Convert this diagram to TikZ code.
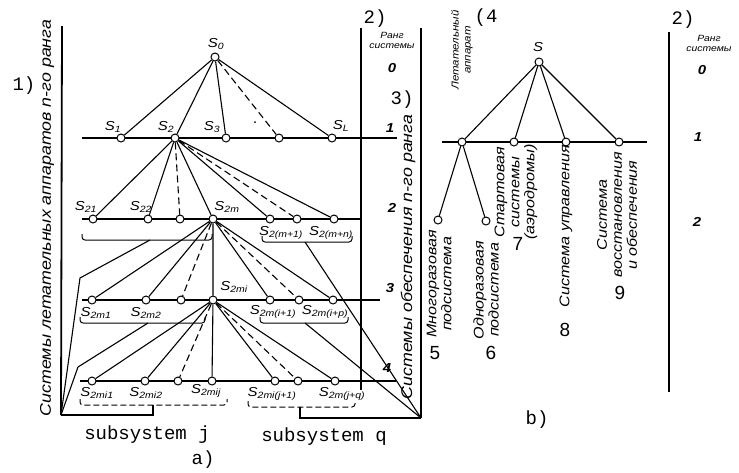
\documentclass[tikz,border=0pt]{standalone}
\usepackage{fontspec}
\setmainfont{Liberation Sans}
\setmonofont{Liberation Mono}
\newfontfamily\rusf[FakeStretch=1.15]{Liberation Sans}
\usetikzlibrary{positioning,backgrounds}
\newcommand{\Sx}[1]{\textit{S}\textsubscript{\itshape #1}}
\tikzset{
  nodo/.style   = {circle, draw, fill=white, line width=1pt, inner sep=0pt,
                   minimum size=8pt},
  rama/.style   = {line width=1.1pt},
  ramad/.style  = {line width=1.1pt, dash pattern=on 7pt off 4pt},
  eje/.style    = {line width=1.8pt},
  nivel/.style  = {line width=1.3pt},
  llave/.style  = {line width=1pt, rounded corners=3pt},
  llaved/.style = {llave, dash pattern=on 6pt off 3pt},
  etq/.style    = {font=\rusf\itshape\fontsize{13}{13}\selectfont, inner sep=0pt},
  rango/.style  = {font=\rusf\bfseries\itshape\fontsize{13}{13}\selectfont, inner sep=0pt},
  rtit/.style   = {font=\rusf\itshape\fontsize{9}{10}\selectfont, align=center, inner sep=0pt},
  rot/.style    = {rotate=90, align=center, inner sep=0pt,
                   font=\rusf\itshape\fontsize{14}{15}\selectfont},
  rotg/.style   = {rot, font=\rusf\itshape\fontsize{15.5}{16}\selectfont},
  rotp/.style   = {rot, font=\rusf\itshape\fontsize{10}{12}\selectfont},
  num/.style    = {font=\fontsize{19}{19}\selectfont, inner sep=0pt},
  marca/.style  = {font=\ttfamily\fontsize{19}{19}\selectfont, inner sep=0pt},
}
\begin{document}
\begin{tikzpicture}[x=1pt,y=-1pt]
  \useasboundingbox (0,0) rectangle (739,472);

  % a) arbol de sistemas
  \node[nodo] (s0) at (215,57) {};
  \node[nodo] (s1) at (121,138) {};
  \node[nodo] (s2) at (175,138) {};
  \node[nodo] (s3) at (226,138) {};
  \node[nodo] (s4) at (279,138) {};
  \node[nodo] (sl) at (332,138) {};
  \node[nodo] (s21) at (93,219) {};
  \node[nodo] (s22) at (148,219) {};
  \node[nodo] (s2x) at (180,219) {};
  \node[nodo] (s2m) at (213,219) {};
  \node[nodo] (s2a) at (270,219) {};
  \node[nodo] (s2b) at (297,219) {};
  \node[nodo] (s2n) at (334,219) {};
  \node[nodo] (m1) at (92,300) {};
  \node[nodo] (m2) at (146,300) {};
  \node[nodo] (mx) at (181,300) {};
  \node[nodo] (mi) at (213,300) {};
  \node[nodo] (ma) at (270,300) {};
  \node[nodo] (mb) at (299,300) {};
  \node[nodo] (mp) at (333,300) {};
  \node[nodo] (i1) at (92,381) {};
  \node[nodo] (i2) at (145,381) {};
  \node[nodo] (ix) at (178,381) {};
  \node[nodo] (ij) at (212,381) {};
  \node[nodo] (ia) at (275,381) {};
  \node[nodo] (ib) at (298,381) {};
  \node[nodo] (iq) at (335,381) {};

  \node[etq] (ls0) at (216,44) {\Sx{0}};
  \node[etq] (ls1) at (113,127) {\Sx{1}};
  \node[etq] (ls2) at (166,127) {\Sx{2}};
  \node[etq] (ls3) at (212,127) {\Sx{3}};
  \node[etq] (lsl) at (341,126) {\Sx{L}};
  \node[etq] (ls21) at (86,207) {\Sx{21}};
  \node[etq] (ls22) at (141,207) {\Sx{22}};
  \node[etq] (ls2m) at (227,207) {\Sx{2m}};
  \node[etq] (ls2a) at (281,233) {\Sx{2(m+1)}};
  \node[etq] (ls2n) at (331,233) {\Sx{2(m+n)}};
  \node[etq] (lm1) at (96,313) {\Sx{2m1}};
  \node[etq] (lm2) at (146,313) {\Sx{2m2}};
  \node[etq] (lmi) at (234,287) {\Sx{2mi}};
  \node[etq] (lma) at (273,312) {\Sx{2m(i+1)}};
  \node[etq] (lmp) at (325,312) {\Sx{2m(i+p)}};
  \node[etq] (li1) at (97,393) {\Sx{2mi1}};
  \node[etq] (li2) at (146,393) {\Sx{2mi2}};
  \node[etq] (lij) at (206,391) {\Sx{2mij}};
  \node[etq] (lia) at (272,394) {\Sx{2mi(j+1)}};
  \node[etq] (liq) at (342,394) {\Sx{2m(j+q)}};

  \draw[rama] (s0) -- (s1) (s0) -- (s2) (s0) -- (s3) (s0) -- (sl);
  \draw[ramad] (s0) -- (s4);
  \fill (255,122) circle (1pt);
  \draw[rama] (s2) -- (s21) (s2) -- (s22) (s2) -- (s2m) (s2) -- (s2a) (s2) -- (s2n);
  \draw[ramad] (s2) -- (s2x) (s2) -- (s2b);
  \draw[rama] (s2m) -- (m1) (s2m) -- (m2) (s2m) -- (mi) (s2m) -- (ma) (s2m) -- (mp);
  \draw[ramad] (s2m) -- (mx) (s2m) -- (mb);
  \draw[rama] (mi) -- (i1) (mi) -- (i2) (mi) -- (ij) (mi) -- (ia) (mi) -- (iq);
  \draw[ramad] (mi) -- (ix) (mi) -- (ib);

  % niveles y ejes
  \coordinate (esqi) at (61,415);
  \coordinate (esqd) at (421,418);
  \begin{scope}[on background layer]
    \draw[nivel] (82,138) -- (397,138);
    \draw[nivel] (82,219) -- (362,219);
    \draw[nivel] (82,300) -- (380,300);
    \draw[nivel] (80,381) -- (396,381);
  \end{scope}
  \draw[eje] (62,26) -- (esqi);
  \draw[eje] (361,28) -- (361,390);
  \draw[eje] (421,28) -- (esqd);

  % llaves de subsistemas
  \draw[llave] (82,234) -- (82,240) -- (212,240) -- (212,234);
  \draw[llave] (262,236) -- (262,242) -- (352,242) -- (352,236);
  \draw[llave] (80,317) -- (80,323) -- (205,323) -- (205,317);
  \draw[llave] (260,317) -- (260,323) -- (348,323) -- (348,317);
  \draw[llaved] (80,399) -- (80,405) -- (227,405) -- (227,399);
  \draw[llaved] (248,401) -- (248,407) -- (355,407) -- (355,401);
  \coordinate (t2l) at (150,240);
  \coordinate (c2l) at (80,278);
  \coordinate (t3l) at (148,323);
  \coordinate (c3l) at (78,367);
  \coordinate (t4l) at (153,405);
  \coordinate (t2r) at (305,242);
  \coordinate (t3r) at (305,323);
  \coordinate (t4r) at (300,407);
  \draw[rama] (t2l) -- (c2l) -- (esqi);
  \draw[rama] (t3l) -- (c3l) -- (esqi);
  \draw[rama] (t4l) -- (153,415) -- (esqi);
  \draw[rama] (t2r) -- (esqd);
  \draw[rama] (t3r) -- (esqd);
  \draw[rama] (t4r) -- (300,418) -- (esqd);

  \node[rotg] (ta) at (47,218) {Системы летательных аппаратов n-го ранга};
  \node[rotg] (tb) at (408,257) {Системы обеспечения n-го ранга};
  \node[rtit] (rga) at (392,40) {Ранг\\системы};
  \node[rango] (r0) at (392,68) {0};
  \node[rango] (r1) at (390,128) {1};
  \node[rango] (r2) at (392,208) {2};
  \node[rango] (r3) at (390,288) {3};
  \node[rango] (r4) at (387,368) {4};
  \node[marca] (m1a) at (24,86) {1)};
  \node[marca] (m2a) at (375,19) {2)};
  \node[marca] (m3a) at (402,100) {3)};
  \node[marca] (sj) at (147,435) {subsystem j};
  \node[marca] (sq) at (324,437) {subsystem q};
  \node[marca] (pa) at (203,460) {a)};

  % b) aparato y subsistemas
  \node[nodo] (b0) at (539,62) {};
  \node[nodo] (b1) at (462,142) {};
  \node[nodo] (b2) at (514,142) {};
  \node[nodo] (b3) at (566,142) {};
  \node[nodo] (b4) at (619,142) {};
  \node[nodo] (b5) at (438,220) {};
  \node[nodo] (b6) at (486,221) {};
  \node[etq] (lb0) at (538,47) {\textit{S}};
  \begin{scope}[on background layer]
    \draw[nivel] (442,142) -- (647,142);
  \end{scope}
  \draw[rama] (b0) -- (b1) (b0) -- (b2) (b0) -- (b3) (b0) -- (b4);
  \draw[rama] (b1) -- (b5) (b1) -- (b6);
  \draw[eje] (669,32) -- (669,392);

  \node[rotp] (tla) at (462,50) {Летательный\\аппарат};
  \node[rot] (t5) at (439,284) {Многоразовая\\подсистема};
  \node[rot] (t6) at (486,290) {Одноразовая\\подсистема};
  \node[rot] (t7) at (516,192) {Стартовая\\системы\\(аэродромы)};
  \node[rot] (t8) at (566,226) {Система управления};
  \node[rot] (t9) at (617,215) {Система\\восстановления\\и обеспечения};
  \node[num] (n5) at (435,353) {5};
  \node[num] (n6) at (491,353) {6};
  \node[num] (n7) at (518,244) {7};
  \node[num] (n8) at (565,330) {8};
  \node[num] (n9) at (620,293) {9};
  \node[rtit] (rgb) at (709,43) {Ранг\\системы};
  \node[rango] (q0) at (702,70) {0};
  \node[rango] (q1) at (698,137) {1};
  \node[rango] (q2) at (697,222) {2};
  \node[marca] (m4b) at (486,18) {(4};
  \node[marca] (m2b) at (683,20) {2)};
  \node[marca] (pb) at (537,420) {b)};
\end{tikzpicture}
\end{document}
